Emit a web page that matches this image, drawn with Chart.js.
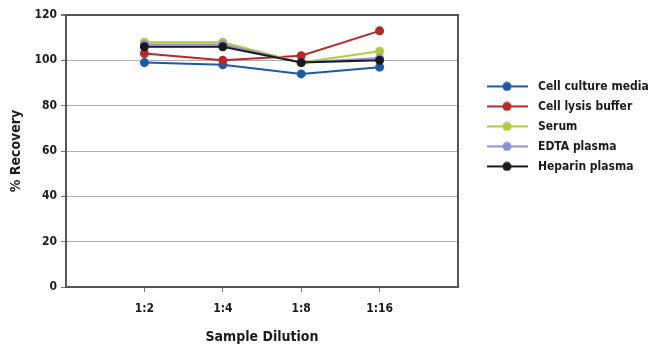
<!DOCTYPE html>
<html>
<head>
<meta charset="utf-8">
<script src="https://cdn.jsdelivr.net/npm/chart.js@4"></script>
<style>
  html, body { margin: 0; padding: 0; background: #fff; }
  #wrap { width: 650px; height: 358px; }
</style>
</head>
<body>
<div id="wrap"><canvas id="chart"></canvas></div>
<script>
// empty slots at both ends keep the space Excel leaves around the points
var dilutions = ['', '1:2', '1:4', '1:8', '1:16', ''];

var seriesNames = ['Cell culture media', 'Cell lysis buffer', 'Serum', 'EDTA plasma', 'Heparin plasma'];
var seriesColors = ['#1d5aa6', '#b82828', '#b3cb3b', '#8d8fd8', '#1a1a1a'];

var cellCulture = [null, 99, 98, 94, 97, null];
var cellLysis = [null, 103, 100, 102, 113, null];
var serum = [null, 108, 108, 99, 104, null];
var edta = [null, 107, 107, 99, 101, null];
var heparin = [null, 106, 106, 99, 100, null];

var yTicks = [0, 20, 40, 60, 80, 100, 120];

var FONT = "'Liberation Sans Narrow', 'DejaVu Sans Condensed', sans-serif";

function legendIcon(color) {
    var c = document.createElement('canvas');
    c.width = 44;
    c.height = 10;
    var g = c.getContext('2d');
    g.strokeStyle = color;
    g.lineWidth = 2;
    g.beginPath();
    g.moveTo(0, 5);
    g.lineTo(41, 5);
    g.stroke();
    g.fillStyle = color;
    g.beginPath();
    g.arc(20, 5, 4.5, 0, Math.PI * 2);
    g.fill();
    return c;
}

var allSeries = [cellCulture, cellLysis, serum, edta, heparin];
var datasets = [];
for (var i = 0; i < allSeries.length; i++) {
    datasets.push({
        label: seriesNames[i],
        data: allSeries[i],
        borderColor: seriesColors[i],
        backgroundColor: seriesColors[i],
        borderWidth: 2,
        pointRadius: 4.5,
        pointHoverRadius: 4.5,
        pointBorderWidth: 0,
        order: allSeries.length - i,
        spanGaps: false
    });
}

var ctx = document.getElementById('chart').getContext('2d');
new Chart(ctx, {
    type: 'line',
    data: { labels: dilutions, datasets: datasets },
    options: {
        responsive: true,
        maintainAspectRatio: false,
        animation: false,
        layout: { padding: { left: 4, top: 15, right: 0, bottom: 0 } },
        plugins: {
            tooltip: { enabled: false },
            legend: {
                position: 'right',
                align: 'start',
                maxWidth: 172,
                title: { display: true, text: '', padding: { top: 43, bottom: 0 }, font: { size: 12 } },
                labels: {
                    usePointStyle: true,
                    pointStyleWidth: 46,
                    padding: 8,
                    color: '#1a1a1a',
                    font: { family: FONT, size: 12, weight: 'bold' },
                    generateLabels: function (chart) {
                        return chart.data.datasets.map(function (ds, idx) {
                            return {
                                text: ds.label,
                                pointStyle: legendIcon(ds.borderColor),
                                fillStyle: ds.borderColor,
                                strokeStyle: ds.borderColor,
                                lineWidth: 0,
                                fontColor: '#1a1a1a',
                                datasetIndex: idx
                            };
                        });
                    }
                }
            }
        },
        scales: {
            x: {
                offset: false,
                afterFit: function (scale) { scale.height = 71; },
                grid: {
                    drawOnChartArea: false,
                    drawTicks: true,
                    tickLength: 5,
                    tickColor: function (c) { return dilutions[c.index] ? '#777' : 'rgba(0,0,0,0)'; }
                },
                border: { color: '#555', width: 2 },
                ticks: {
                    padding: 10,
                    color: '#1a1a1a',
                    autoSkip: false,
                    maxRotation: 0,
                    font: { family: FONT, size: 12, weight: 'bold' }
                },
                title: {
                    display: true,
                    text: 'Sample Dilution',
                    color: '#1a1a1a',
                    padding: { top: 4, bottom: 12 },
                    font: { family: FONT, size: 14, weight: 'bold' }
                }
            },
            y: {
                min: 0,
                max: 120,
                afterFit: function (scale) { scale.width = 62; },
                afterBuildTicks: function (scale) {
                    scale.ticks = yTicks.map(function (v) { return { value: v }; });
                },
                grid: {
                    color: function (c) { return c.tick && c.tick.value === 120 ? '#555' : '#b0b0b0'; },
                    lineWidth: function (c) { return c.tick && c.tick.value === 120 ? 2 : 1; },
                    tickColor: '#777',
                    tickLength: 5
                },
                border: { color: '#555', width: 2 },
                ticks: {
                    padding: 4,
                    color: '#1a1a1a',
                    font: { family: FONT, size: 12, weight: 'bold' }
                },
                title: {
                    display: true,
                    text: '% Recovery',
                    color: '#1a1a1a',
                    padding: { top: 4, bottom: 4 },
                    font: { family: FONT, size: 14, weight: 'bold' }
                }
            },
            yRight: {
                position: 'right',
                min: 0,
                max: 120,
                afterFit: function (scale) { scale.width = 20; },
                grid: { drawOnChartArea: false, drawTicks: false },
                border: { color: '#555', width: 2 },
                ticks: { display: false }
            }
        }
    }
});
</script>
</body>
</html>
